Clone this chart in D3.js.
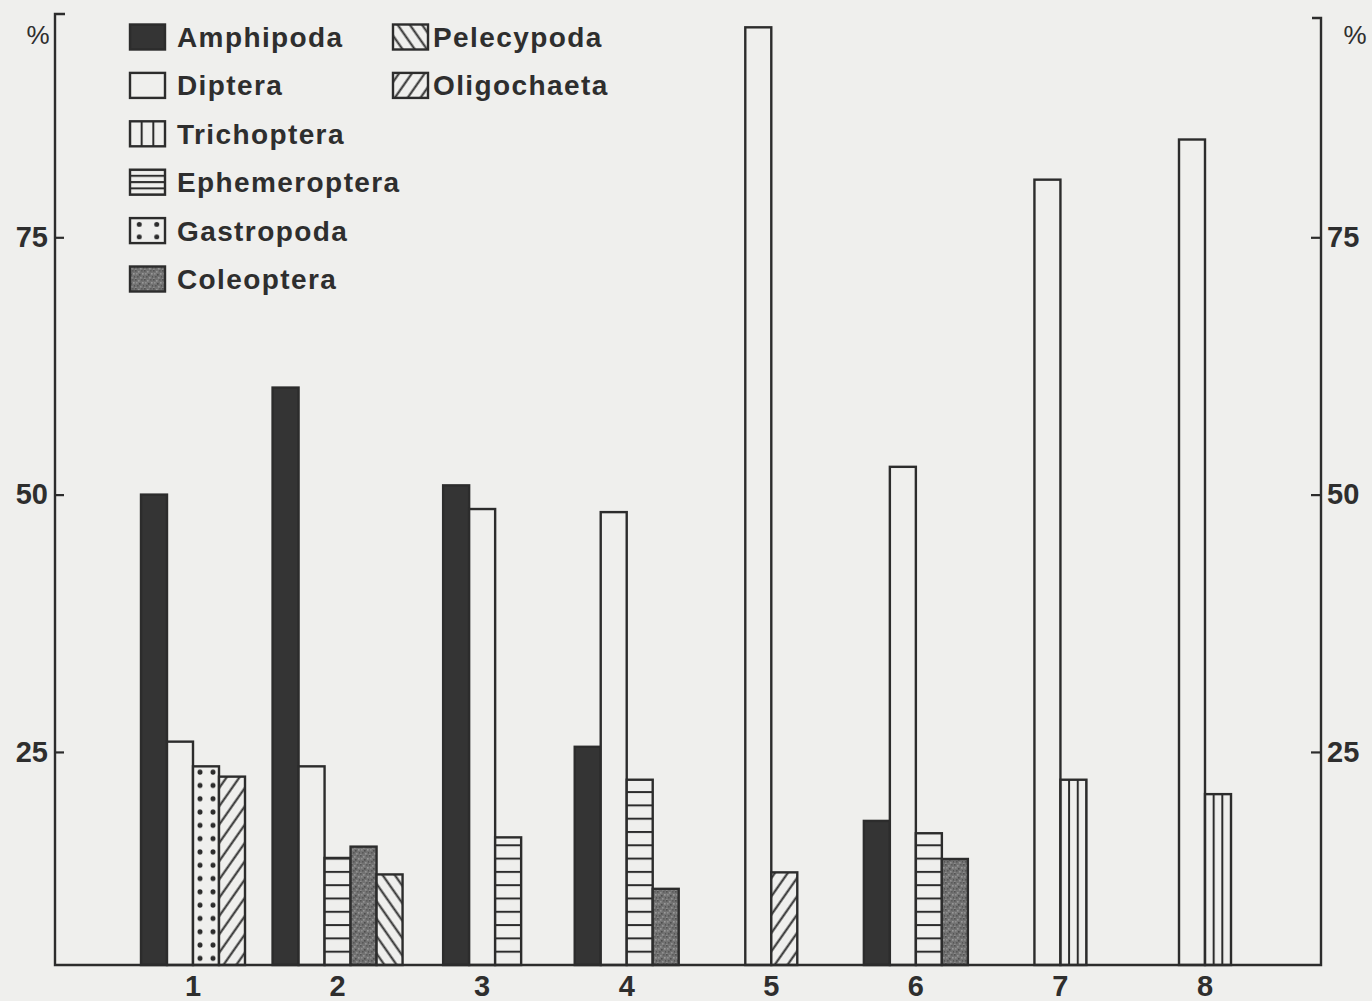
<!DOCTYPE html>
<html><head><meta charset="utf-8">
<script src="https://cdn.jsdelivr.net/npm/d3@7"></script>
<style>
body{margin:0;background:#efefed;}
svg text{font-family:"Liberation Sans",Arial,Helvetica,sans-serif;fill:#2e2e2e;}
</style></head>
<body><svg id="chart" width="1372" height="1001"></svg>
<script>
// ---- data (percent) ----
const stations = ["1","2","3","4","5","6","7","8"];
const categories = ["Amphipoda","Diptera","Trichoptera","Ephemeroptera","Gastropoda","Coleoptera","Pelecypoda","Oligochaeta"];
const amphipoda     = [50.0, 60.4, 50.9, 25.5, null, 18.3, null, null];
const diptera       = [26.0, 23.6, 48.6, 48.3, 95.4, 52.7, 80.6, 84.5];
const trichoptera   = [null, null, null, null, null, null, 22.3, 20.9];
const ephemeroptera = [null, 14.7, 16.7, 22.3, null, 17.1, null, null];
const gastropoda    = [23.6, null, null, null, null, null, null, null];
const coleoptera    = [null, 15.8, null, 11.7, null, 14.6, null, null];
const pelecypoda    = [null, 13.1, null, null, null, null, null, null];
const oligochaeta   = [22.6, null, null, null, 13.3, null, null, null];
const yTicks = [25, 50, 75];
const yDomain = [4.3, 96.5];

const series = {
  Amphipoda: amphipoda, Diptera: diptera, Trichoptera: trichoptera,
  Ephemeroptera: ephemeroptera, Gastropoda: gastropoda, Coleoptera: coleoptera,
  Pelecypoda: pelecypoda, Oligochaeta: oligochaeta
};

const W = 1372, H = 1001;
const ink = "#2c2c2c", paper = "#efefed";
const axLeftX = 55, axRightX = 1321, baseY = 965, topY = 16;
const svg = d3.select("#chart");
svg.append("rect").attr("width", W).attr("height", H).attr("fill", paper);

const x = d3.scalePoint().domain(stations).range([193, 1205]);
const y = d3.scaleLinear().domain(yDomain).range([baseY, topY]);
const barW = 26;

const defs = svg.append("defs");
function hatch(id, angle, gap) {
  const p = defs.append("pattern").attr("id", id).attr("patternUnits", "userSpaceOnUse")
    .attr("width", gap).attr("height", 20).attr("patternTransform", `rotate(${angle})`);
  p.append("rect").attr("width", gap).attr("height", 20).attr("fill", paper);
  p.append("line").attr("x1", 1.5).attr("x2", 1.5).attr("y1", 0).attr("y2", 20)
    .attr("stroke", ink).attr("stroke-width", 2);
}
hatch("hatchOligo", 35, 10.5);
hatch("hatchPelec", -35, 10);
(function () {
  const p = defs.append("pattern").attr("id", "grain").attr("patternUnits", "userSpaceOnUse")
    .attr("width", 9).attr("height", 9);
  p.append("rect").attr("width", 9).attr("height", 9).attr("fill", "#727272");
  const specks = [[0,0,"#545454"],[3,1,"#939393"],[6,0,"#5c5c5c"],[1,3,"#8e8e8e"],[4,4,"#4e4e4e"],
                  [7,3,"#999"],[2,6,"#585858"],[5,7,"#929292"],[8,6,"#565656"],[0,8,"#8a8a8a"]];
  specks.forEach(s => p.append("rect").attr("x", s[0]).attr("y", s[1]).attr("width", 1.6).attr("height", 1.6).attr("fill", s[2]));
})();

let pid = 0;
function fillFor(cat, bx, by, bw, gapH) {
  if (cat === "Amphipoda") return "#343434";
  if (cat === "Diptera") return paper;
  if (cat === "Coleoptera") return "url(#grain)";
  if (cat === "Oligochaeta") return "url(#hatchOligo)";
  if (cat === "Pelecypoda") return "url(#hatchPelec)";
  const id = "p" + (pid++);
  const p = defs.append("pattern").attr("id", id).attr("patternUnits", "userSpaceOnUse");
  if (cat === "Trichoptera") {
    p.attr("x", bx - 1).attr("y", 0).attr("width", bw / 3).attr("height", 10);
    p.append("rect").attr("width", bw / 3).attr("height", 10).attr("fill", paper);
    p.append("line").attr("x1", 1).attr("x2", 1).attr("y1", 0).attr("y2", 10).attr("stroke", ink).attr("stroke-width", 2);
  } else if (cat === "Ephemeroptera") {
    p.attr("x", 0).attr("y", by - 1).attr("width", 10).attr("height", gapH);
    p.append("rect").attr("width", 10).attr("height", gapH).attr("fill", paper);
    p.append("line").attr("x1", 0).attr("x2", 10).attr("y1", 1).attr("y2", 1).attr("stroke", ink).attr("stroke-width", 2);
  } else if (cat === "Gastropoda") {
    p.attr("x", bx).attr("y", by).attr("width", bw / 2).attr("height", gapH);
    p.append("rect").attr("width", bw / 2).attr("height", gapH).attr("fill", paper);
    p.append("circle").attr("cx", bw / 4 + 0.5).attr("cy", gapH / 2).attr("r", 2.5).attr("fill", ink);
  }
  return "url(#" + id + ")";
}

// ---- bars ----
const gBars = svg.append("g");
stations.forEach((s, i) => {
  const present = categories.filter(c => series[c][i] != null);
  const start = x(s) - present.length * barW / 2;
  present.forEach((c, j) => {
    const bx = start + j * barW;
    const v = series[c][i];
    gBars.append("rect")
      .attr("x", bx).attr("y", y(v))
      .attr("width", barW).attr("height", y(yDomain[0]) - y(v))
      .attr("fill", fillFor(c, bx, y(yDomain[0]), barW, 13.3))
      .attr("stroke", ink).attr("stroke-width", 2.4);
  });
});

// ---- axes ----
svg.append("path")
  .attr("d", `M${axLeftX + 10},${topY - 2}H${axLeftX}V${baseY}H${axRightX}V${topY + 2}H${axRightX - 9}`)
  .attr("fill", "none").attr("stroke", ink).attr("stroke-width", 2.4);

const axL = d3.axisLeft(y).tickValues(yTicks).tickSizeInner(-9).tickSizeOuter(0).tickPadding(7);
const gl = svg.append("g").attr("transform", `translate(${axLeftX},0)`).call(axL);
const axR = d3.axisRight(y).tickValues(yTicks).tickSizeInner(-10).tickSizeOuter(0).tickPadding(6);
const gr = svg.append("g").attr("transform", `translate(${axRightX},0)`).call(axR);
[gl, gr].forEach(g => {
  g.select(".domain").remove();
  g.selectAll(".tick line").attr("stroke", ink).attr("stroke-width", 2.2);
  g.selectAll(".tick text").attr("font-size", 29).attr("font-weight", "bold")
    .attr("fill", ink).attr("font-family", "'Liberation Sans',Arial,sans-serif");
});

svg.append("g").selectAll("text").data(stations).join("text")
  .attr("x", d => x(d)).attr("y", 996)
  .attr("text-anchor", "middle").attr("font-size", 29).attr("font-weight", "bold")
  .text(d => d);

svg.append("text").attr("x", 38).attr("y", 44).attr("text-anchor", "middle").attr("font-size", 26).text("%");
svg.append("text").attr("x", 1355).attr("y", 44).attr("text-anchor", "middle").attr("font-size", 26).text("%");

// ---- legend ----
const legend = svg.append("g");
categories.forEach((c, k) => {
  const col = k < 6 ? 0 : 1;
  const row = k < 6 ? k : k - 6;
  const bx = col === 0 ? 130 : 393;
  const cy = 37 + row * 48.4;
  const bw = 35, bh = 25;
  legend.append("rect").attr("x", bx).attr("y", cy - bh / 2).attr("width", bw).attr("height", bh)
    .attr("fill", fillFor(c, bx, cy + bh / 2, bw, c === "Gastropoda" ? 12.5 : 6.3))
    .attr("stroke", ink).attr("stroke-width", 2.4);
  legend.append("text").attr("x", col === 0 ? 177 : 433).attr("y", cy).attr("dy", "0.36em")
    .attr("font-size", 28).attr("font-weight", "bold").attr("letter-spacing", 1.4).text(c);
});
</script></body></html>
